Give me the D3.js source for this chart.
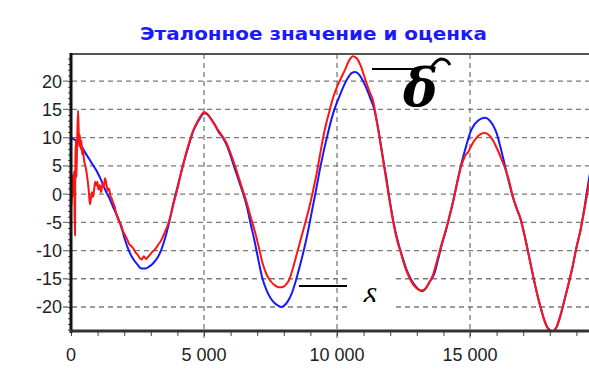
<!doctype html>
<html>
<head>
<meta charset="utf-8">
<title>Эталонное значение и оценка</title>
<script src="https://cdnjs.cloudflare.com/ajax/libs/d3/7.8.5/d3.min.js"></script>
<style>
  body { margin: 0; background: #fff; }
  .tick-label { font-family: "Liberation Sans", Arial, sans-serif; font-size: 18px; fill: #222; }
</style>
</head>
<body>
<div id="chart"></div>
<script>
// chart title and ticks
const title = 'Эталонное значение и оценка';
const xTicks = [0, 5000, 10000, 15000];
const yTicks = [-20, -15, -10, -5, 0, 5, 10, 15, 20];

// reference value (blue)
const etalon = [
  [0, 10], [150, 9.6], [300, 9.2], [500, 7.6], [750, 5.7], [950, 4.2], [1130, 2.5], [1300, 0.6],
  [1450, -0.8], [1600, -2.5], [1750, -4], [1900, -6], [2050, -8.4], [2200, -10.3], [2350, -11.6],
  [2500, -12.5], [2650, -13.2], [2800, -13.2], [2950, -12.8], [3100, -12.2], [3250, -11.3],
  [3400, -9.8], [3550, -7.6], [3700, -4.8], [3850, -1.6], [4000, 1.2], [4150, 4], [4300, 6.6],
  [4450, 9], [4600, 11.2], [4750, 12.6], [4900, 13.8], [5000, 14.3], [5100, 14.2], [5250, 13.4],
  [5400, 12.3], [5550, 11], [5700, 10], [5850, 8.7], [6000, 6.8], [6150, 4.6], [6300, 2.5],
  [6450, 0.4], [6600, -2], [6750, -5.2], [6900, -8.3], [7050, -11.8], [7200, -15], [7350, -17],
  [7500, -18.4], [7650, -19.3], [7800, -19.8], [7900, -20], [8000, -19.8], [8150, -19],
  [8300, -17.6], [8450, -15.4], [8600, -12.8], [8750, -10], [8900, -6.8], [9050, -3.2], [9200, 0.4],
  [9350, 4.2], [9500, 7.6], [9650, 10.6], [9800, 13.4], [9950, 15.6], [10100, 17.4], [10250, 19.1],
  [10400, 20.5], [10550, 21.4], [10680, 21.6], [10800, 21.3], [10950, 20.3], [11100, 18.8],
  [11250, 17], [11400, 15], [11550, 11.5], [11700, 7.2], [11850, 3], [12000, -1.6], [12150, -5.6],
  [12300, -8.6], [12450, -11], [12600, -13.2], [12750, -14.8], [12900, -16], [13050, -16.8],
  [13200, -17.2], [13350, -16.6], [13500, -15.4], [13650, -14.2], [13800, -11.6], [13950, -8.8],
  [14100, -6.4], [14250, -3.6], [14400, -0.6], [14550, 2.8], [14700, 5.8], [14850, 8.4],
  [15000, 10.8], [15150, 12.2], [15300, 13], [15450, 13.4], [15570, 13.5], [15700, 13.2],
  [15850, 12.3], [16000, 10.8], [16150, 8.2], [16300, 5.3], [16450, 2.4], [16600, -0.4],
  [16750, -2.5], [16900, -4.4], [17050, -7.3], [17200, -10.6], [17350, -14], [17500, -17.2],
  [17650, -20], [17800, -22.4], [17950, -23.9], [18100, -24.3], [18250, -23.6], [18400, -21.5],
  [18550, -18.8], [18700, -16], [18850, -13], [19000, -9.5], [19150, -6.5], [19300, -2.5],
  [19450, 2], [19600, 6]
];

// estimate (red)
const estimate = [
  [0, 1], [25, -2], [40, 3.5], [55, -0.5], [75, 2], [95, 0], [115, 4], [135, -4], [150, -7.3],
  [165, 6], [185, 9.5], [205, 3], [230, 9], [265, 14.8], [285, 12], [305, 8.5], [330, 10.5],
  [360, 8], [390, 9.5], [420, 7], [450, 8], [480, 6.5], [510, 5.5], [550, 4.8], [590, 3.7],
  [630, 2.2], [670, 0.5], [710, -1.8], [750, -0.8], [790, 0.3], [830, -0.5], [870, 0.9],
  [910, 2.2], [950, 1.5], [990, 2.2], [1030, 0.8], [1080, 1.6], [1130, 0.3], [1180, 1.8],
  [1230, 1.2], [1280, 2.8], [1330, 1.8], [1380, 0.6], [1430, 1], [1480, -0.3], [1530, -0.8],
  [1580, -1.5], [1640, -2.2], [1700, -3.5], [1760, -4.3], [1820, -5], [1880, -5.4], [1950, -6.5],
  [2020, -7.2], [2100, -7.9], [2180, -8.8], [2260, -9.2], [2340, -9.6], [2420, -10.3],
  [2500, -10.7], [2580, -11.3], [2660, -11.6], [2740, -11], [2820, -11.5], [2900, -11.1],
  [2980, -10.7], [3060, -10.2], [3140, -9.9], [3220, -9.4], [3300, -8.8], [3380, -8.3],
  [3460, -7.5], [3540, -6.6], [3620, -5.7], [3700, -4.6], [3780, -3.2], [3860, -1.6],
  [3940, -0.2], [4020, 1.3], [4150, 4], [4300, 6.8], [4450, 9.2], [4600, 11.3], [4750, 12.8],
  [4900, 14], [5000, 14.5], [5100, 14.3], [5250, 13.4], [5400, 12.3], [5550, 11.2], [5700, 10.2],
  [5850, 9], [6000, 7.2], [6150, 5.2], [6300, 3], [6450, 0.8], [6600, -1.4], [6750, -4],
  [6900, -6.4], [7050, -9.2], [7200, -12.2], [7350, -14.2], [7500, -15.4], [7650, -16.1],
  [7800, -16.5], [7930, -16.5], [8050, -16.2], [8200, -15.2], [8350, -13], [8500, -10.4],
  [8650, -7.8], [8800, -5.2], [8950, -2.5], [9100, 0.6], [9250, 4], [9400, 8], [9550, 11.6],
  [9700, 14.4], [9850, 17], [10000, 19], [10150, 20.5], [10300, 22], [10450, 23.6],
  [10600, 24.4], [10750, 24], [10900, 22.6], [11050, 20.5], [11200, 18.4], [11350, 16.6],
  [11500, 12.8], [11650, 8.5], [11800, 4], [11950, -0.4], [12100, -4.6], [12250, -8],
  [12400, -10.4], [12550, -12.8], [12700, -14.6], [12850, -15.9], [13000, -16.7], [13150, -17.1],
  [13300, -16.9], [13450, -15.8], [13600, -14.4], [13750, -12], [13900, -9.4], [14050, -7],
  [14200, -4.4], [14350, -1.6], [14500, 1.6], [14650, 4.6], [14800, 6.6], [14950, 7.6],
  [15100, 9], [15250, 10], [15400, 10.6], [15550, 10.8], [15700, 10.5], [15850, 9.6],
  [16000, 8.2], [16150, 6.6], [16300, 4.8], [16450, 2.6], [16600, -0.2], [16750, -2.5],
  [16900, -4.4], [17050, -7.3], [17200, -10.6], [17350, -14], [17500, -17.2], [17650, -20],
  [17800, -22.4], [17950, -23.9], [18100, -24.3], [18250, -23.6], [18400, -21.5], [18550, -18.8],
  [18700, -16], [18850, -13], [19000, -9.5], [19150, -6.5], [19300, -2.8], [19450, 1.2],
  [19600, 5]
];

const width = 589, height = 376;
const svg = d3.select('#chart').append('svg')
  .attr('width', width)
  .attr('height', height);

// scales: plot box runs past the right edge of the window
const x = d3.scaleLinear().domain([0, 20000]).range([71, 603]);
const y = d3.scaleLinear().domain([-24.25, 24.8]).range([331, 54]);

// title
svg.append('text')
  .attr('x', 313.5)
  .attr('y', 40)
  .attr('text-anchor', 'middle')
  .attr('textLength', 347)
  .attr('lengthAdjust', 'spacingAndGlyphs')
  .style('font-family', '"DejaVu Sans", Verdana, sans-serif')
  .style('font-weight', 'bold')
  .style('font-size', '18px')
  .style('fill', '#1a1aff')
  .text(title);

// grid
const grid = svg.append('g')
  .attr('stroke', '#7a7a7a')
  .attr('stroke-width', 1.3)
  .attr('stroke-dasharray', '5,4');

grid.selectAll('line.h')
  .data(yTicks)
  .join('line')
  .attr('class', 'h')
  .attr('x1', 63).attr('x2', width)
  .attr('y1', d => y(d)).attr('y2', d => y(d));

grid.selectAll('line.v')
  .data(xTicks.filter(d => d > 0))
  .join('line')
  .attr('class', 'v')
  .attr('x1', d => x(d)).attr('x2', d => x(d))
  .attr('y1', y.range()[1]).attr('y2', 338);

// axes with minor ticks
const yMinor = d3.range(-24, 25, 1);
svg.append('g')
  .attr('transform', `translate(${x(0)},0)`)
  .call(d3.axisLeft(y).tickValues(yMinor).tickSize(3).tickFormat(''))
  .call(g => g.select('.domain').remove())
  .call(g => g.selectAll('line').attr('stroke', '#444'));

const xMinor = d3.range(0, 20001, 1000);
svg.append('g')
  .attr('transform', `translate(0,${y(-24.25)})`)
  .call(d3.axisBottom(x).tickValues(xMinor).tickSize(5).tickFormat(''))
  .call(g => g.select('.domain').remove())
  .call(g => g.selectAll('line').attr('stroke', '#444'));

// tick labels
svg.append('g')
  .selectAll('text')
  .data(yTicks)
  .join('text')
  .attr('class', 'tick-label')
  .attr('x', 62)
  .attr('y', d => y(d) + 6.5)
  .attr('text-anchor', 'end')
  .text(d => d);

const fmt = d => d3.format(',')(d).replace(/,/g, ' ');
svg.append('g')
  .selectAll('text')
  .data(xTicks)
  .join('text')
  .attr('class', 'tick-label')
  .attr('x', d => x(d))
  .attr('y', 361)
  .attr('text-anchor', 'middle')
  .text(fmt);

// clip for the curves
svg.append('clipPath').attr('id', 'plot-clip')
  .append('rect')
  .attr('x', x(0)).attr('y', y.range()[1])
  .attr('width', width - x(0)).attr('height', y.range()[0] - y.range()[1]);

const line = d3.line()
  .x(d => x(d[0]))
  .y(d => y(d[1]))
  .curve(d3.curveMonotoneX);

const curves = svg.append('g').attr('clip-path', 'url(#plot-clip)');
curves.append('path')
  .datum(etalon)
  .attr('d', line)
  .attr('fill', 'none')
  .attr('stroke', '#1818ff')
  .attr('stroke-width', 2);

curves.append('path')
  .datum(estimate)
  .attr('d', line)
  .attr('fill', 'none')
  .attr('stroke', '#ff1414')
  .attr('stroke-width', 2);

// frame: top border, left and bottom axis lines
svg.append('line')
  .attr('x1', x(0)).attr('x2', width)
  .attr('y1', y.range()[1]).attr('y2', y.range()[1])
  .attr('stroke', '#555').attr('stroke-width', 2);
svg.append('line')
  .attr('x1', x(0)).attr('x2', x(0))
  .attr('y1', y.range()[1] - 1).attr('y2', y.range()[0] + 2)
  .attr('stroke', '#111').attr('stroke-width', 3);
svg.append('line')
  .attr('x1', x(0) - 1).attr('x2', width)
  .attr('y1', y.range()[0]).attr('y2', y.range()[0])
  .attr('stroke', '#333').attr('stroke-width', 3);

// annotations: estimate label (top) and reference label (bottom)
svg.append('line')
  .attr('x1', 372).attr('x2', 418).attr('y1', 69).attr('y2', 69)
  .attr('stroke', '#000').attr('stroke-width', 2);
svg.append('text')
  .attr('x', 403).attr('y', 106)
  .style('font-family', '"DejaVu Serif", "Liberation Serif", serif')
  .style('font-style', 'italic')
  .style('font-weight', 'bold')
  .style('font-size', '52px')
  .text('δ');
svg.append('path')
  .attr('d', 'M431,68 Q436,60 441,59 Q447,59 450,65')
  .attr('fill', 'none')
  .attr('stroke', '#000')
  .attr('stroke-width', 3);

svg.append('rect')
  .attr('x', 348).attr('y', 276).attr('width', 46).attr('height', 36)
  .attr('fill', '#fff');
svg.append('line')
  .attr('x1', 299).attr('x2', 347).attr('y1', 286).attr('y2', 286)
  .attr('stroke', '#000').attr('stroke-width', 2);
svg.append('clipPath').attr('id', 'small-clip')
  .append('rect').attr('x', 350).attr('y', 280).attr('width', 40).attr('height', 22);
svg.append('text')
  .attr('x', 362).attr('y', 309)
  .attr('clip-path', 'url(#small-clip)')
  .style('font-family', '"Liberation Serif", "Times New Roman", serif')
  .style('font-style', 'italic')
  .style('font-size', '30px')
  .text('δ');
</script>
</body>
</html>
